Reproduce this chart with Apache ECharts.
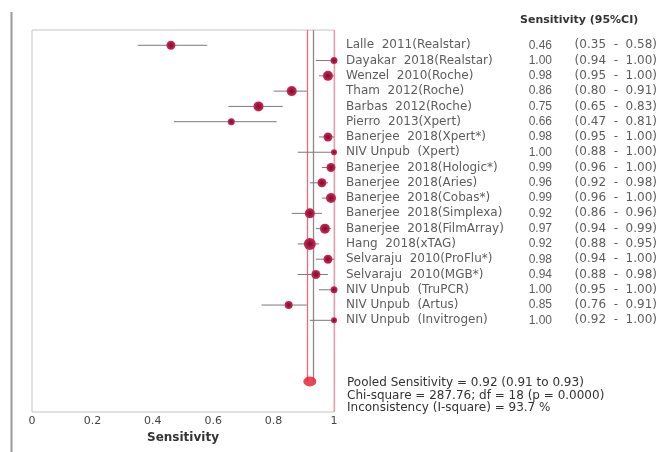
<!DOCTYPE html>
<html><head><meta charset="utf-8">
<script src="https://cdn.jsdelivr.net/npm/echarts@6/dist/echarts.min.js"></script>
<style>html,body{margin:0;padding:0;background:#fff}#c{width:667px;height:452px}</style>
</head><body><div id="c"></div>
<script>
const studies = ["Lalle  2011(Realstar)","Dayakar  2018(Realstar)","Wenzel  2010(Roche)","Tham  2012(Roche)","Barbas  2012(Roche)","Pierro  2013(Xpert)","Banerjee  2018(Xpert*)","NIV Unpub  (Xpert)","Banerjee  2018(Hologic*)","Banerjee  2018(Aries)","Banerjee  2018(Cobas*)","Banerjee  2018(Simplexa)","Banerjee  2018(FilmArray)","Hang  2018(xTAG)","Selvaraju  2010(ProFlu*)","Selvaraju  2010(MGB*)","NIV Unpub  (TruPCR)","NIV Unpub  (Artus)","NIV Unpub  (Invitrogen)"];
const sens  = [0.46,1.00,0.98,0.86,0.75,0.66,0.98,1.00,0.99,0.96,0.99,0.92,0.97,0.92,0.98,0.94,1.00,0.85,1.00];
const lower = [0.35,0.94,0.95,0.80,0.65,0.47,0.95,0.88,0.96,0.92,0.96,0.86,0.94,0.88,0.94,0.88,0.95,0.76,0.92];
const upper = [0.58,1.00,1.00,0.91,0.83,0.81,1.00,1.00,1.00,0.98,1.00,0.96,0.99,0.95,1.00,0.98,1.00,0.91,1.00];
const weights = [9,7,10,10,10,7,9,6,9,9,10,10,10,12,9,9,7,8,6];
const pooled = {est:0.92, lo:0.91, hi:0.93};
const stats = ["Pooled Sensitivity = 0.92 (0.91 to 0.93)","Chi-square = 287.76; df = 18 (p = 0.0000)","Inconsistency (I-square) = 93.7 %"];
const xTicks = [0,0.2,0.4,0.6,0.8,1];

const pooledRow = 22;
const fmt = v => v.toFixed(2);
const chart = echarts.init(document.getElementById('c'));
const font = 'DejaVu Sans, Verdana, sans-serif';
const font2 = 'Liberation Sans, Arial, sans-serif';
const txtRows = studies.map((s,i)=>({value:[346,i], label:{formatter:s}}));
const valRows = sens.map((v,i)=>({value:[552,i], label:{formatter:fmt(v)}}));
const ciRows = sens.map((v,i)=>({value:[657,i], label:{formatter:'(' + fmt(lower[i]) + '  -  ' + fmt(upper[i]) + ')'}}));
const markerColor = {type:'radial',x:0.5,y:0.5,r:0.5,colorStops:[{offset:0,color:'#6e1030'},{offset:0.45,color:'#a0183e'},{offset:1,color:'#d22858'}]};
const vLines = [[pooled.lo,-1,pooledRow],[pooled.hi,-1,pooledRow],[1,-1,24]];
const vColors = ['#f26a7a','#8a8a8a','#eb9aaa'];
chart.setOption({
  animation:false,
  grid:[{left:32,width:302,top:30,height:382,show:true,borderColor:'#c4c4c4',borderWidth:1},
        {left:0,width:667,top:30,height:382,show:false}],
  xAxis:[{gridIndex:0,type:'value',min:0,max:1,interval:0.2,
          axisLine:{show:false},axisTick:{show:false},splitLine:{show:false},
          axisLabel:{color:'#444',fontSize:11,fontFamily:font,margin:4,
                     formatter:v=>String(xTicks.find(t=>Math.abs(t-v)<1e-9) ?? v)},
          name:'Sensitivity',nameLocation:'middle',nameGap:20,
          nameTextStyle:{fontWeight:'bold',fontSize:12,color:'#333',fontFamily:font}},
         {gridIndex:1,type:'value',min:0,max:667,show:false}],
  yAxis:[{gridIndex:0,type:'value',min:-1,max:24,inverse:true,show:false},
         {gridIndex:1,type:'value',min:-1,max:24,inverse:true,show:false}],
  series:[
    {type:'custom',xAxisIndex:0,yAxisIndex:0,clip:false,
     data:vLines,
     renderItem:(params,api)=>{
       const a=api.coord([api.value(0),api.value(1)]), b=api.coord([api.value(0),api.value(2)]);
       return {type:'line',shape:{x1:Math.round(a[0])+0.5,y1:a[1],x2:Math.round(b[0])+0.5,y2:b[1]},
               style:{stroke:vColors[params.dataIndex],lineWidth:1.3,fill:null}};
     }},
    {type:'custom',xAxisIndex:0,yAxisIndex:0,
     data:lower.map((l,i)=>[l,upper[i],i]),
     renderItem:(params,api)=>{
       const a=api.coord([api.value(0),api.value(2)]), b=api.coord([api.value(1),api.value(2)]);
       return {type:'line',shape:{x1:a[0],y1:a[1],x2:b[0],y2:b[1]},style:{stroke:'#7a7a7a',lineWidth:1}};
     }},
    {type:'scatter',xAxisIndex:0,yAxisIndex:0,
     data:sens.map((v,i)=>[v,i,weights[i]]),
     symbolSize:d=>d[2],
     itemStyle:{color:markerColor,opacity:1}},
    {type:'scatter',xAxisIndex:0,yAxisIndex:0,
     data:[[pooled.est,pooledRow]],symbolSize:[13,10],
     itemStyle:{color:'#e41c2c'}},
    {type:'scatter',xAxisIndex:1,yAxisIndex:1,symbolSize:0,data:txtRows,
     label:{show:true,position:'right',distance:0,color:'#333',fontSize:12,fontFamily:font}},
    {type:'scatter',xAxisIndex:1,yAxisIndex:1,symbolSize:0,data:valRows,
     label:{show:true,position:'left',distance:0,color:'#333',fontSize:12,fontFamily:font2}},
    {type:'scatter',xAxisIndex:1,yAxisIndex:1,symbolSize:0,data:ciRows,
     label:{show:true,position:'left',distance:0,color:'#333',fontSize:12,fontFamily:font}}
  ],
  graphic:[
    {type:'line',shape:{x1:11.5,y1:12,x2:11.5,y2:452},style:{stroke:'#9a9a9a',lineWidth:2}},
    {type:'text',left:520,top:15,style:{text:'Sensitivity (95%CI)',font:'bold 11px '+font,fill:'#333'}},
    {type:'text',left:347,top:377,style:{text:stats[0],font:'12px '+font,fill:'#333'}},
    {type:'text',left:347,top:390,style:{text:stats[1],font:'12px '+font,fill:'#333'}},
    {type:'text',left:347,top:402,style:{text:stats[2],font:'12px '+font,fill:'#333'}}
  ]
});
</script></body></html>
